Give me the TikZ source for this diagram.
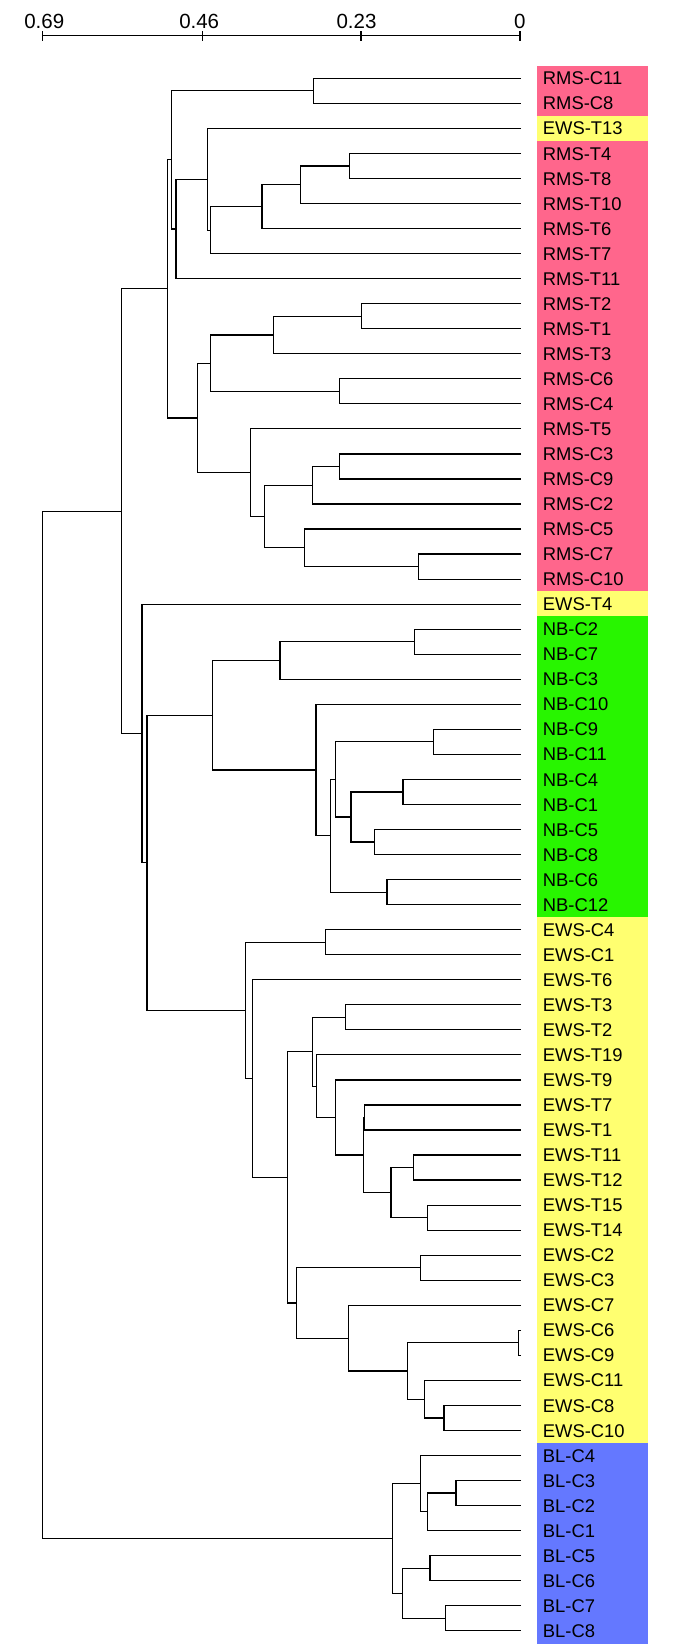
\documentclass[tikz,border=0pt]{standalone}
\usepackage{fontspec}
\setmainfont{Liberation Sans}
\usetikzlibrary{calc}
\definecolor{cpk}{RGB}{255,102,140}
\definecolor{cyl}{RGB}{255,255,112}
\definecolor{cgr}{RGB}{40,245,0}
\definecolor{cbl}{RGB}{100,120,255}
\tikzset{
  br/.style={line width=1.2pt, black, line join=miter},
  axline/.style={line width=1.2pt, black},
  boxn/.style={draw=none, minimum width=111.3pt, minimum height=25.4pt, inner sep=0pt, outer sep=0pt},
  lab/.style={anchor=west, inner sep=0pt, text height=13.2pt, text depth=0pt, font=\fontsize{18.4}{20}\selectfont},
  axlab/.style={inner sep=0pt, text height=14.6pt, text depth=0pt, font=\fontsize{20.5}{22}\selectfont}
}
\newcommand\jn[4]{%
  \path let \p1=($(#3)!0.5!(#4)$) in coordinate (#1) at (#2pt,\y1);
  \draw[br] (#3) -| (#1) |- (#4);
}
\begin{document}
\begin{tikzpicture}[x=1pt,y=-1pt]
\useasboundingbox (0,0) rectangle (685,1647);
% axis
\coordinate (a69) at (42.3,35.7);
\coordinate (a46) at (202.3,35.7);
\coordinate (a23) at (361,35.7);
\coordinate (a0) at (520,35.7);
\draw[axline] (a69) -- (a0);
\foreach \c in {a69,a46,a23,a0} \draw[axline] (\c) ++(0,-4.5) -- ++(0,9.5);
\node[axlab] (k69) at (44.3,21.2) {0.69};
\node[axlab] (k46) at (199.2,21.2) {0.46};
\node[axlab] (k23) at (356.5,21.2) {0.23};
\node[axlab] (k0) at (519.7,21.2) {0};
% leaves
\foreach \i/\t/\c in {1/RMS-C11/cpk, 2/RMS-C8/cpk, 3/EWS-T13/cyl, 4/RMS-T4/cpk, 5/RMS-T8/cpk, 6/RMS-T10/cpk, 7/RMS-T6/cpk, 8/RMS-T7/cpk, 9/RMS-T11/cpk, 10/RMS-T2/cpk, 11/RMS-T1/cpk, 12/RMS-T3/cpk, 13/RMS-C6/cpk, 14/RMS-C4/cpk, 15/RMS-T5/cpk, 16/RMS-C3/cpk, 17/RMS-C9/cpk, 18/RMS-C2/cpk, 19/RMS-C5/cpk, 20/RMS-C7/cpk, 21/RMS-C10/cpk, 22/EWS-T4/cyl, 23/NB-C2/cgr, 24/NB-C7/cgr, 25/NB-C3/cgr, 26/NB-C10/cgr, 27/NB-C9/cgr, 28/NB-C11/cgr, 29/NB-C4/cgr, 30/NB-C1/cgr, 31/NB-C5/cgr, 32/NB-C8/cgr, 33/NB-C6/cgr, 34/NB-C12/cgr, 35/EWS-C4/cyl, 36/EWS-C1/cyl, 37/EWS-T6/cyl, 38/EWS-T3/cyl, 39/EWS-T2/cyl, 40/EWS-T19/cyl, 41/EWS-T9/cyl, 42/EWS-T7/cyl, 43/EWS-T1/cyl, 44/EWS-T11/cyl, 45/EWS-T12/cyl, 46/EWS-T15/cyl, 47/EWS-T14/cyl, 48/EWS-C2/cyl, 49/EWS-C3/cyl, 50/EWS-C7/cyl, 51/EWS-C6/cyl, 52/EWS-C9/cyl, 53/EWS-C11/cyl, 54/EWS-C8/cyl, 55/EWS-C10/cyl, 56/BL-C4/cbl, 57/BL-C3/cbl, 58/BL-C2/cbl, 59/BL-C1/cbl, 60/BL-C5/cbl, 61/BL-C6/cbl, 62/BL-C7/cbl, 63/BL-C8/cbl}{
  \pgfmathsetmacro\yy{78.3+(\i-1)*25.04}
  \node[boxn, fill=\c] (b\i) at (592.65,\yy) {};
  \node[lab] (t\i) at (542.7,\yy) {\t};
  \coordinate (l\i) at (521,\yy);
}
% RMS / EWS-T13 part
\jn{n1}{313.7}{l1}{l2}
\jn{n2}{349.7}{l4}{l5}
\jn{n3}{300.7}{n2}{l6}
\jn{n4}{262}{n3}{l7}
\jn{n5}{210.3}{n4}{l8}
\jn{n6}{207.3}{l3}{n5}
\jn{n7}{176}{n6}{l9}
\jn{n8}{171.3}{n1}{n7}
\jn{n9}{361.3}{l10}{l11}
\jn{n10}{273.7}{n9}{l12}
\jn{n11}{339.3}{l13}{l14}
\jn{n12}{210.3}{n10}{n11}
\jn{n13}{339.3}{l16}{l17}
\jn{n14}{312.3}{n13}{l18}
\jn{n15}{418.3}{l20}{l21}
\jn{n16}{304.3}{l19}{n15}
\jn{n17}{264.7}{n14}{n16}
\jn{n18}{250.3}{l15}{n17}
\jn{n19}{197.7}{n12}{n18}
\jn{n20}{167.7}{n8}{n19}
% NB part
\jn{n24}{414.3}{l23}{l24}
\jn{n25}{280}{n24}{l25}
\jn{n26}{433.7}{l27}{l28}
\jn{n27}{403}{l29}{l30}
\jn{n28}{374.3}{l31}{l32}
\jn{n29}{351}{n27}{n28}
\jn{n30}{335.3}{n26}{n29}
\jn{n31}{387}{l33}{l34}
\jn{n32}{330.3}{n30}{n31}
\jn{n33}{316}{l26}{n32}
\jn{n34}{212.7}{n25}{n33}
% EWS part
\jn{n35}{325.3}{l35}{l36}
\jn{n36}{345.7}{l38}{l39}
\jn{n37}{364.3}{l42}{l43}
\jn{n38}{413.3}{l44}{l45}
\jn{n39}{427.7}{l46}{l47}
\jn{n40}{391}{n38}{n39}
\jn{n41}{363.6}{n37}{n40}
\jn{n42}{335.7}{l41}{n41}
\jn{n43}{316.3}{l40}{n42}
\jn{n44}{312.3}{n36}{n43}
\jn{n45}{420.7}{l48}{l49}
\jn{n46}{518.3}{l51}{l52}
\jn{n47}{444}{l54}{l55}
\jn{n48}{424.7}{l53}{n47}
\jn{n49}{407.7}{n46}{n48}
\jn{n50}{348.3}{l50}{n49}
\jn{n51}{296.7}{n45}{n50}
\jn{n52}{287.7}{n44}{n51}
\jn{n53}{252.7}{l37}{n52}
\jn{n54}{245.3}{n35}{n53}
\jn{n23}{147}{n34}{n54}
\jn{n22}{142}{l22}{n23}
\jn{n21}{121.3}{n20}{n22}
% BL part
\jn{n55}{456}{l57}{l58}
\jn{n56}{427.7}{n55}{l59}
\jn{n57}{420.7}{l56}{n56}
\jn{n58}{430}{l60}{l61}
\jn{n59}{445.3}{l62}{l63}
\jn{n60}{402.7}{n58}{n59}
\jn{n61}{392.3}{n57}{n60}
% root
\jn{root}{42.4}{n21}{n61}
\end{tikzpicture}
\end{document}
